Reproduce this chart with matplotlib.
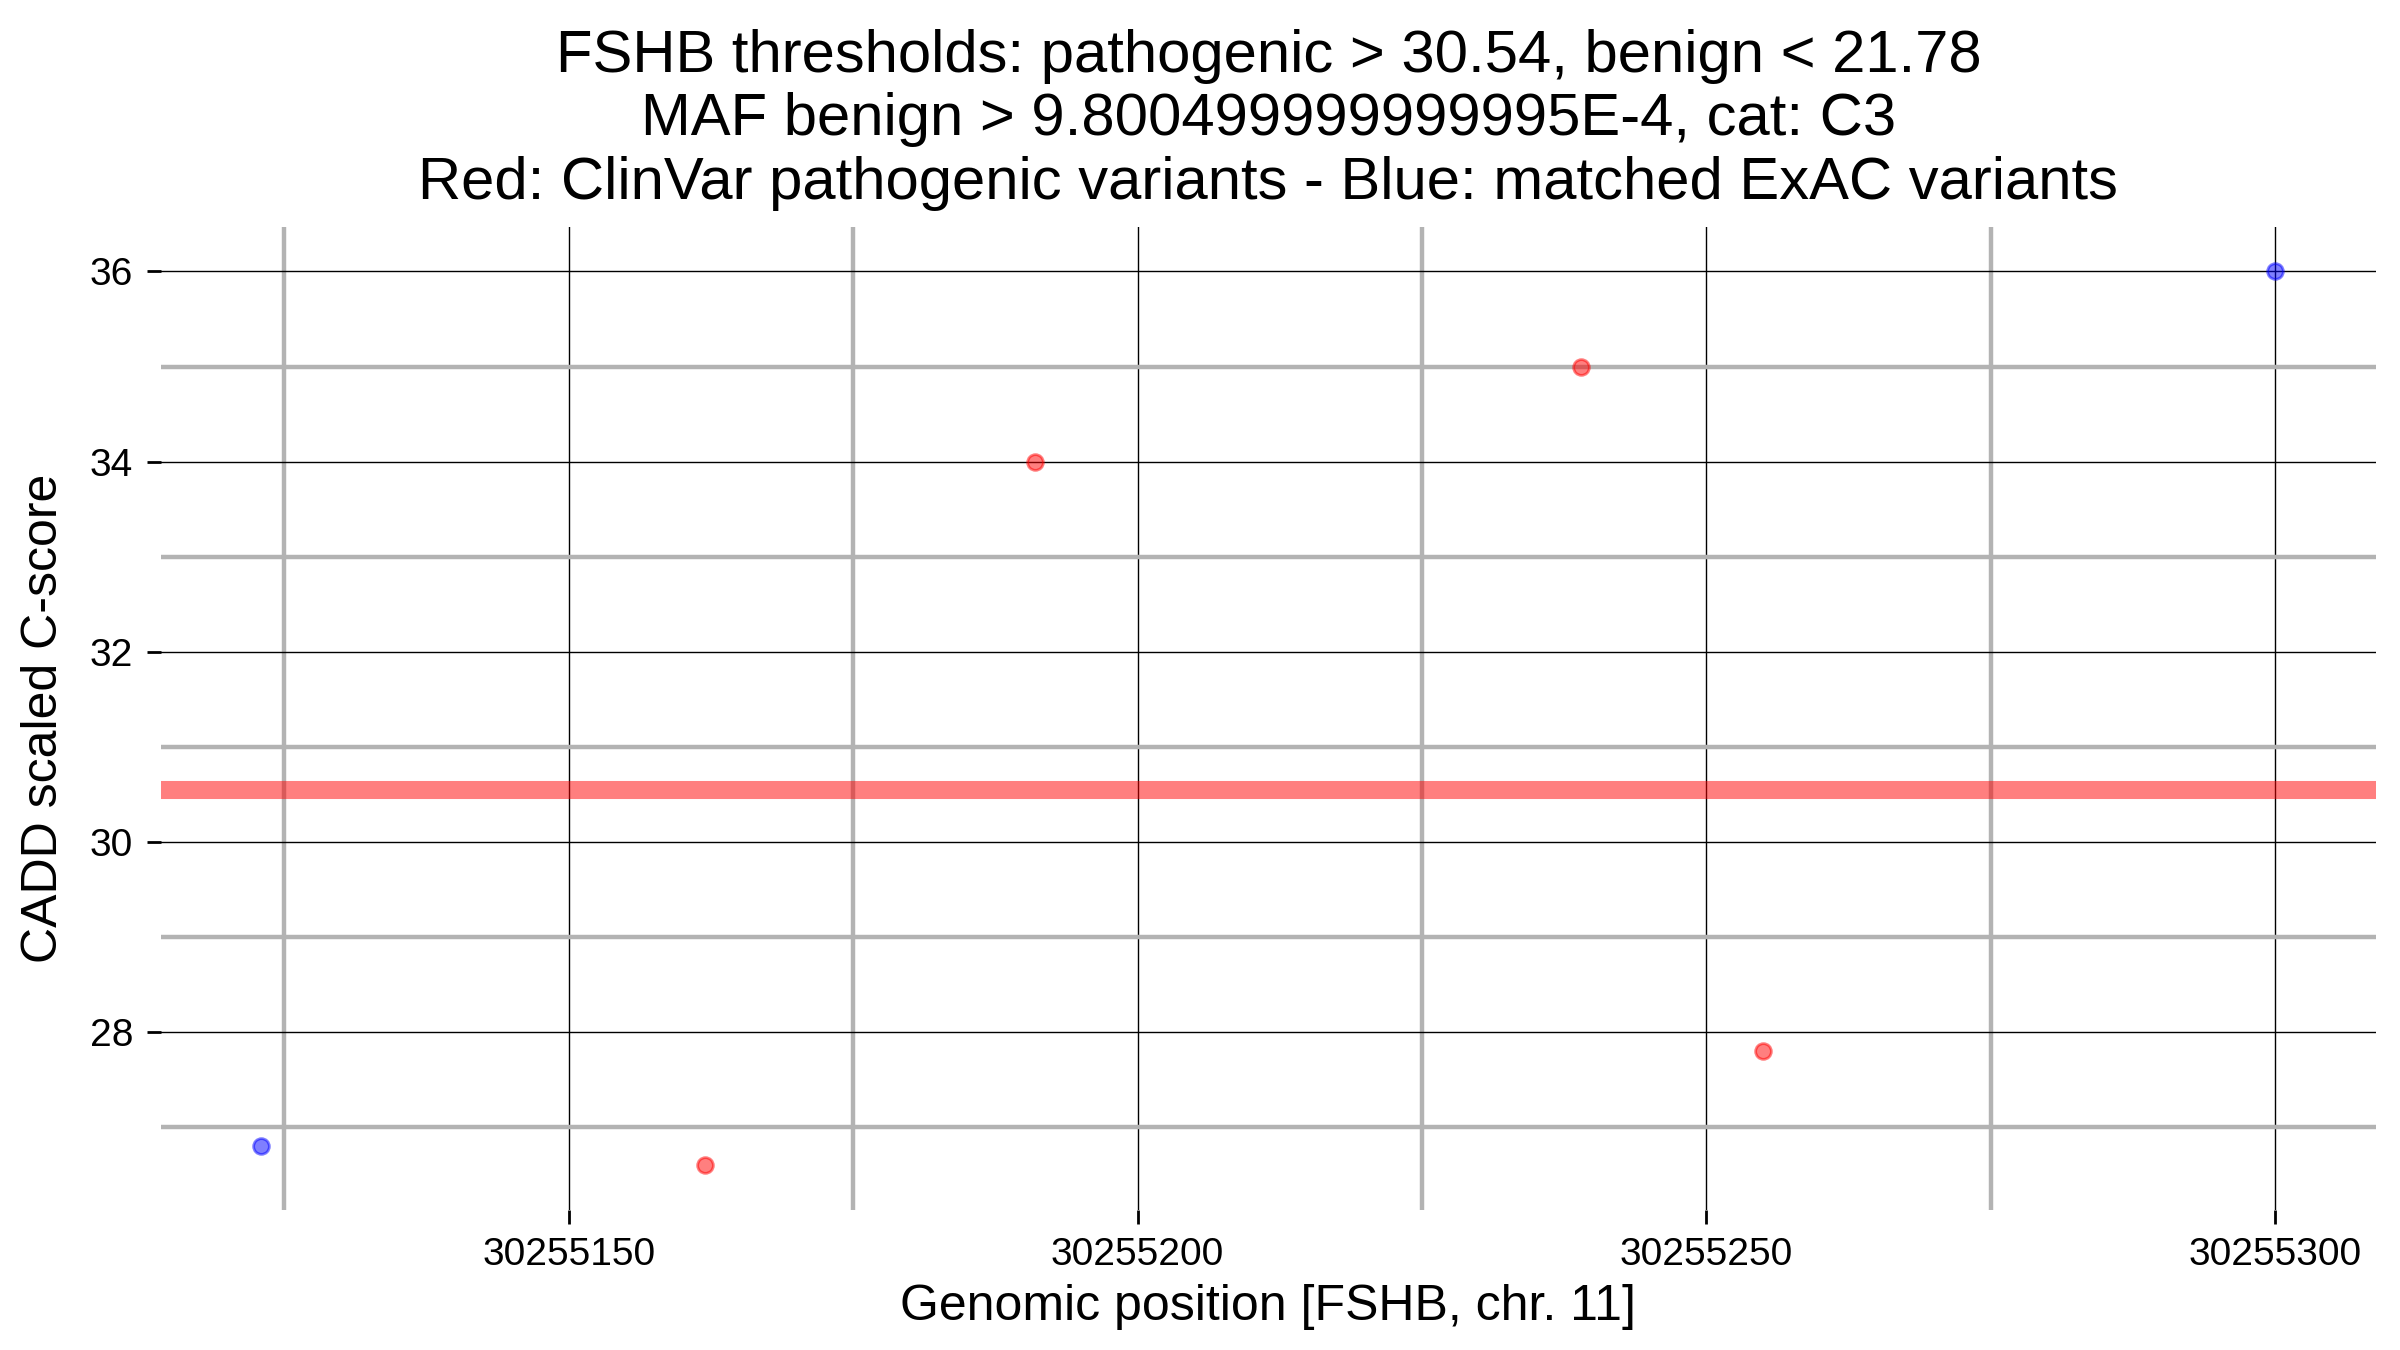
import matplotlib.pyplot as plt
from matplotlib.ticker import MultipleLocator, FuncFormatter

plt.rcParams['font.family'] = ['Liberation Sans', 'DejaVu Sans']

# Variantes: posições genómicas e C-scores
pos_clinvar = [30255162, 30255191, 30255239, 30255255]
score_clinvar = [26.6, 34.0, 35.0, 27.8]
pos_exac = [30255123, 30255300]
score_exac = [26.8, 36.0]

limiar_patogenico = 30.54

titulo = ('FSHB thresholds: pathogenic > 30.54, benign < 21.78\n'
          'MAF benign > 9.800499999999995E-4, cat: C3\n'
          'Red: ClinVar pathogenic variants - Blue: matched ExAC variants')

fig, ax = plt.subplots(figsize=(12, 6.75), dpi=200)
fig.subplots_adjust(left=0.067, right=0.99, top=0.832, bottom=0.104)

ax.axhline(limiar_patogenico, color='red', alpha=0.5, linewidth=6.5, zorder=2)

ax.scatter(pos_clinvar, score_clinvar, s=32, color='red', alpha=0.5, zorder=3)
ax.scatter(pos_exac, score_exac, s=32, color='blue', alpha=0.5, zorder=3)

# margens ao estilo ggplot (5%)
todas_x = pos_clinvar + pos_exac
todas_y = score_clinvar + score_exac
dx = (max(todas_x) - min(todas_x)) * 0.05
dy = (max(todas_y) - min(todas_y)) * 0.05
ax.set_xlim(min(todas_x) - dx, max(todas_x) + dx)
ax.set_ylim(min(todas_y) - dy, max(todas_y) + dy)

ax.xaxis.set_major_locator(MultipleLocator(50))
ax.xaxis.set_minor_locator(MultipleLocator(25))
ax.yaxis.set_major_locator(MultipleLocator(2))
ax.yaxis.set_minor_locator(MultipleLocator(1))
ax.xaxis.set_major_formatter(FuncFormatter(lambda v, p: f'{v:.0f}'))

ax.grid(which='minor', color='#b3b3b3', linewidth=1.6, zorder=0)
ax.grid(which='major', color='black', linewidth=0.5, zorder=1)
ax.set_axisbelow(True)

for lado in ax.spines.values():
    lado.set_visible(False)

ax.tick_params(which='major', length=5, width=1, labelsize=14, color='black', pad=5)
ax.tick_params(which='minor', length=0)

ax.set_xlabel('Genomic position [FSHB, chr. 11]', fontsize=18, labelpad=4)
ax.set_ylabel('CADD scaled C-score', fontsize=18, labelpad=8)
ax.set_title(titulo, fontsize=21.5, linespacing=1.2, pad=10)

plt.savefig('out.png')
